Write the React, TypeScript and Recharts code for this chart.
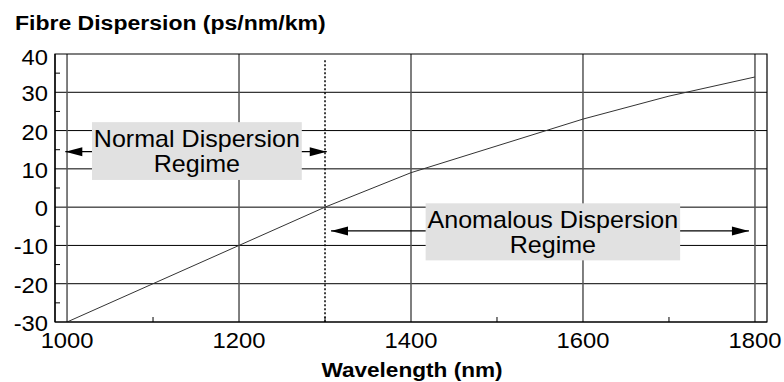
import { Line, LineChart, ReferenceArea, ReferenceLine, XAxis, YAxis } from "recharts";

const WAVELENGTH_NM = [1000, 1100, 1200, 1300, 1400, 1500, 1600, 1700, 1800];
const DISPERSION = [-30, -20, -10, 0, 9, 16, 23, 29, 34];

const X_DOMAIN: [number, number] = [986, 1814];
const Y_DOMAIN: [number, number] = [-30, 40];
const X_TICKS = [1000, 1100, 1200, 1300, 1400, 1500, 1600, 1700, 1800];
const X_MAJOR = [1000, 1200, 1400, 1600, 1800];
const Y_TICKS = [-30, -25, -20, -15, -10, -5, 0, 5, 10, 15, 20, 25, 30, 35, 40];
const Y_MAJOR = [-20, -10, 0, 10, 20, 30];
const ZERO_DISPERSION_NM = 1300;

const TITLE = "Fibre Dispersion (ps/nm/km)";
const X_TITLE = "Wavelength (nm)";

// regime annotations: box in data units, arrow tips in nm
const REGIMES = [
  {
    lines: ["Normal Dispersion", "Regime"],
    box: { x1: 1029, x2: 1273, y1: 7.1, y2: 22.2 },
    arrow: { from: 998, to: 1302, y: 14.5 },
  },
  {
    lines: ["Anomalous Dispersion", "Regime"],
    box: { x1: 1417, x2: 1713, y1: -13.9, y2: 1.0 },
    arrow: { from: 1307, to: 1793, y: -6.2 },
  },
];

const FONT = '"Liberation Sans", Arial, Helvetica, sans-serif';

const data = WAVELENGTH_NM.map((x, i) => ({ x, d: DISPERSION[i] }));

function YTick({ x, y, payload }: any) {
  const v = Number(payload.value);
  if (v % 10 !== 0) {
    return <line x1={x + 7} x2={x + 12} y1={y} y2={y} stroke="#000" strokeWidth={1} />;
  }
  const dy = v === Y_DOMAIN[1] ? 11 : 9;
  return (
    <text
      transform={`translate(${x} ${y + dy}) scale(1.08 1)`}
      textAnchor="end"
      fontSize={22}
      fontFamily={FONT}
      fill="#000"
    >
      {v}
    </text>
  );
}

function XTick({ x, y, payload }: any) {
  const v = Number(payload.value);
  if (!X_MAJOR.includes(v)) {
    return <line x1={x} x2={x} y1={y} y2={y - 5} stroke="#000" strokeWidth={1} />;
  }
  return (
    <text
      transform={`translate(${x} ${y + 25.5}) scale(1.08 1)`}
      textAnchor="middle"
      fontSize={22}
      fontFamily={FONT}
      fill="#000"
    >
      {v}
    </text>
  );
}

function Arrow({ x1, y1, x2, y2 }: any) {
  const len = 17;
  const half = 4.5;
  return (
    <g>
      <line x1={x1} y1={y1} x2={x2} y2={y2} stroke="#000" strokeWidth={1.3} />
      <polygon points={`${x1},${y1} ${x1 + len},${y1 - half} ${x1 + len},${y1 + half}`} fill="#000" />
      <polygon points={`${x2},${y2} ${x2 - len},${y2 - half} ${x2 - len},${y2 + half}`} fill="#000" />
    </g>
  );
}

function RegimeBox({ x, y, width, height, lines }: any) {
  const cx = x + width / 2;
  return (
    <g>
      <rect x={x} y={y} width={width} height={height} fill="#e1e1e1" />
      {lines.map((t: string, i: number) => (
        <text
          key={t}
          transform={`translate(${cx} ${y + 24.5 + i * 25}) scale(1.09 1)`}
          textAnchor="middle"
          fontSize={23}
          fontFamily={FONT}
          fill="#000"
        >
          {t}
        </text>
      ))}
    </g>
  );
}

export default function App() {
  return (
    <div style={{ position: "absolute", left: 0, top: 0, width: 784, height: 382, background: "#fff", fontFamily: FONT }}>
      <div
        style={{
          position: "absolute",
          left: 15,
          top: 12.8,
          fontSize: 20,
          lineHeight: "20px",
          fontWeight: 700,
          whiteSpace: "nowrap",
          transform: "scaleX(1.15)",
          transformOrigin: "left center",
        }}
      >
        {TITLE}
      </div>
      <LineChart
        width={784}
        height={382}
        data={data}
        margin={{ top: 54, right: 17, bottom: 0, left: 0 }}
        style={{ fontFamily: FONT }}
      >
        <XAxis
          dataKey="x"
          type="number"
          domain={X_DOMAIN}
          ticks={X_TICKS}
          interval={0}
          height={60}
          tickSize={0}
          tickMargin={0}
          tickLine={false}
          axisLine={{ stroke: "#000", strokeWidth: 1.2 }}
          tick={<XTick />}
          allowDataOverflow
        />
        <YAxis
          type="number"
          domain={Y_DOMAIN}
          ticks={Y_TICKS}
          interval={0}
          width={55}
          tickSize={0}
          tickMargin={7}
          tickLine={false}
          axisLine={{ stroke: "#000", strokeWidth: 1.2 }}
          tick={<YTick />}
          allowDataOverflow
        />
        {Y_MAJOR.map((v) => (
          <ReferenceLine key={`h${v}`} y={v} stroke="#000" strokeWidth={1} zIndex={-20} />
        ))}
        {X_MAJOR.map((v) => (
          <ReferenceLine key={`v${v}`} x={v} stroke="#555" strokeWidth={1.5} zIndex={-10} />
        ))}
        <ReferenceArea
          x1={X_DOMAIN[0]}
          x2={X_DOMAIN[1]}
          y1={Y_DOMAIN[0]}
          y2={Y_DOMAIN[1]}
          fill="none"
          stroke="#000"
          strokeWidth={1.2}
          zIndex={-5}
        />
        <ReferenceLine
          segment={[
            { x: ZERO_DISPERSION_NM, y: 38.4 },
            { x: ZERO_DISPERSION_NM, y: Y_DOMAIN[0] },
          ]}
          stroke="#000"
          strokeWidth={1.5}
          strokeDasharray="2 2"
          zIndex={-4}
        />
        <Line
          dataKey="d"
          type="linear"
          stroke="#333"
          strokeWidth={1}
          dot={false}
          activeDot={false}
          isAnimationActive={false}
        />
        {REGIMES.map((r) => (
          <ReferenceLine
            key={`a${r.lines[0]}`}
            segment={[
              { x: r.arrow.from, y: r.arrow.y },
              { x: r.arrow.to, y: r.arrow.y },
            ]}
            shape={(p: any) => <Arrow {...p} />}
            zIndex={410}
          />
        ))}
        {REGIMES.map((r) => (
          <ReferenceArea
            key={`b${r.lines[0]}`}
            x1={r.box.x1}
            x2={r.box.x2}
            y1={r.box.y1}
            y2={r.box.y2}
            fillOpacity={1}
            shape={(p: any) => <RegimeBox {...p} lines={r.lines} />}
            zIndex={420}
          />
        ))}
      </LineChart>
      <div
        style={{
          position: "absolute",
          left: 211.7,
          width: 400,
          top: 360.4,
          fontSize: 20,
          lineHeight: "20px",
          fontWeight: 700,
          textAlign: "center",
          whiteSpace: "nowrap",
          transform: "scaleX(1.13)",
          transformOrigin: "center center",
        }}
      >
        {X_TITLE}
      </div>
    </div>
  );
}
